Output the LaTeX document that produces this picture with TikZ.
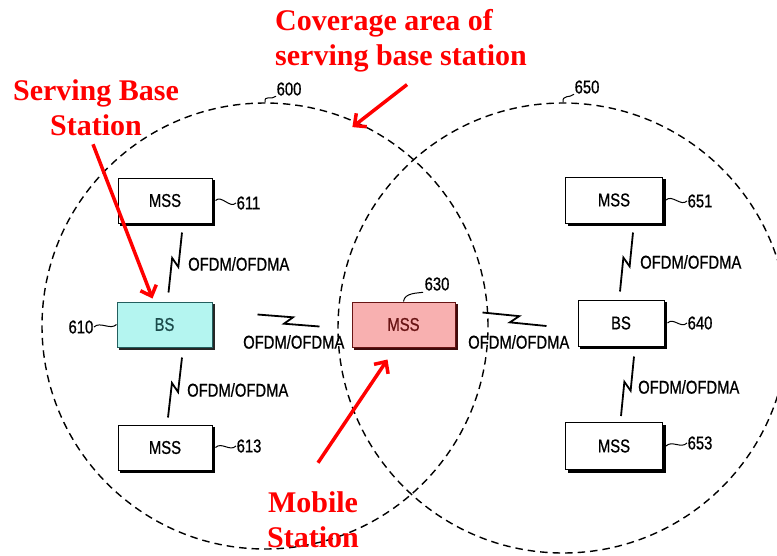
\documentclass[tikz,border=0pt]{standalone}
\usepackage{fontspec}
\usetikzlibrary{calc,arrows.meta,shadows}
\newfontfamily\lblfont[FakeStretch=0.8,FakeBold=0.8]{Liberation Sans}
\newfontfamily\redfont{Liberation Serif}
\definecolor{bscyan}{RGB}{180,245,240}
\definecolor{bsedge}{RGB}{35,95,95}
\definecolor{mspink}{RGB}{248,176,176}
\definecolor{msedge}{RGB}{105,20,20}
\definecolor{annred}{RGB}{255,0,0}
\tikzset{
  zone/.style={circle, draw=black, dash pattern=on 7.5pt off 5pt, line width=1.4pt, inner sep=0pt},
  box/.style={draw=black, line width=1pt, fill=white, inner sep=0pt,
    font=\lblfont\fontsize{18.5}{20}\selectfont,
    copy shadow={shadow xshift=2.5pt, shadow yshift=-2.5pt, fill=black, draw=black}},
  bsbox/.style={box, fill=bscyan, draw=bsedge, text=bsedge!80!black,
    copy shadow={shadow xshift=2.5pt, shadow yshift=-2.5pt, fill=black!85, draw=black!85}},
  msbox/.style={box, fill=mspink, draw=msedge, text=msedge,
    copy shadow={shadow xshift=2.5pt, shadow yshift=-2.5pt, fill=msedge!60!black, draw=msedge!60!black}},
  numlbl/.style={font=\lblfont\fontsize{18.5}{20}\selectfont, inner sep=0.5pt},
  ofdm/.style={font=\lblfont\fontsize{18.5}{20}\selectfont, inner sep=0pt, anchor=west},
  tilde/.style={draw=black, line width=1pt},
  zap/.style={draw=black, line width=1.8pt, line join=miter},
  redtext/.style={font=\redfont\bfseries\fontsize{30}{35}\selectfont, text=annred, inner sep=0pt},
  redarrow/.style={draw=annred, line width=3.5pt, -{Straight Barb[length=9pt, width=17pt]}}
}
\newcommand\zapline[2]{%
  \path ($(#1)!0.56!(#2)$) coordinate (zq1) ($(#1)!0.44!(#2)$) coordinate (zq2);
  \path ($(zq1)!4pt!90:(#2)$) coordinate (zr1) ($(zq2)!4pt!-90:(#2)$) coordinate (zr2);
  \draw[zap] (#1) -- (zr1) -- (zr2) -- (#2);}
\begin{document}
\begin{tikzpicture}[x=1pt, y=-1pt]
\fill[white] (0,0) rectangle (777,555);
\useasboundingbox (0,0) rectangle (777,555);

% coverage circles
\node[zone, minimum size=446pt] (c600) at (265,326) {};
\node[zone, minimum size=450pt] (c650) at (563,328) {};

% boxes
\node[box, minimum width=94pt, minimum height=45pt] (m611) at (165,200.5) {MSS};
\node[bsbox, minimum width=95pt, minimum height=45pt] (b610) at (164.5,324.5) {BS};
\node[box, minimum width=94pt, minimum height=45pt] (m613) at (165,447.5) {MSS};
\node[msbox, minimum width=103pt, minimum height=45pt] (m630) at (403.5,324.5) {MSS};
\node[box, minimum width=97pt, minimum height=46pt] (m651) at (614,200) {MSS};
\node[box, minimum width=86pt, minimum height=46pt] (b640) at (621,323) {BS};
\node[box, minimum width=97pt, minimum height=47pt] (m653) at (614,446) {MSS};

% reference numbers
\node[numlbl, anchor=west] (l600) at (276,89) {600};
\node[numlbl, anchor=west] (l650) at (574,87) {650};
\node[numlbl, anchor=west] (l611) at (236,203) {611};
\node[numlbl, anchor=east] (l610) at (94,327) {610};
\node[numlbl, anchor=west] (l613) at (236,446) {613};
\node[numlbl, anchor=west] (l630) at (424,284) {630};
\node[numlbl, anchor=west] (l651) at (687,201) {651};
\node[numlbl, anchor=west] (l640) at (687,323) {640};
\node[numlbl, anchor=west] (l653) at (687,443) {653};

\draw[tilde] (c600.north) .. controls +(-1,-8) and +(-4,4) .. (l600.south west);
\draw[tilde] (c650.north) .. controls +(-1,-8) and +(-4,4) .. (l650.south west);
\draw[tilde] (l630.south west) ++(-1,1) .. controls +(-5,1) and +(1,-9) .. (m630.north);
\draw[tilde] ([xshift=3pt]m611.east) .. controls +(6,-6) and +(-6,6) .. (l611.west);
\draw[tilde] ([xshift=3pt]m613.east) .. controls +(6,-6) and +(-6,6) .. (l613.west);
\draw[tilde] ([xshift=3pt]m651.east) .. controls +(6,-6) and +(-6,6) .. (l651.west);
\draw[tilde] ([xshift=3pt]b640.east) .. controls +(6,-6) and +(-6,6) .. (l640.west);
\draw[tilde] ([xshift=3pt]m653.east) .. controls +(6,-6) and +(-6,6) .. (l653.west);
\draw[tilde] (l610.east) .. controls +(6,-6) and +(-6,6) .. (b610.west);

% wireless links
\coordinate (z1a) at ($(m611.south)+(17,9)$);
\coordinate (z1b) at ($(b610.north)+(4,-9)$);
\coordinate (z2a) at ($(b610.south)+(17.5,10)$);
\coordinate (z2b) at ($(m613.north)+(3,-7)$);
\coordinate (z3a) at ($(b610.east)+(45,-10)$);
\coordinate (z3b) at ($(m630.west)+(-32,2)$);
\coordinate (z4a) at ($(m630.east)+(27,-12)$);
\coordinate (z4b) at ($(b640.west)+(-31,3)$);
\coordinate (z5a) at ($(m651.south)+(19,9)$);
\coordinate (z5b) at ($(b640.north)+(-1,-8)$);
\coordinate (z6a) at ($(b640.south)+(13,10)$);
\coordinate (z6b) at ($(m653.north)+(7,-6)$);
\zapline{z1a}{z1b}
\zapline{z2a}{z2b}
\zapline{z3a}{z3b}
\zapline{z4a}{z4b}
\zapline{z5a}{z5b}
\zapline{z6a}{z6b}

\node[ofdm] (o1) at (188,264) {OFDM/OFDMA};
\node[ofdm] (o2) at (187,390) {OFDM/OFDMA};
\node[ofdm] (o3) at (243,342) {OFDM/OFDMA};
\node[ofdm] (o4) at (468,342) {OFDM/OFDMA};
\node[ofdm] (o5) at (640,262) {OFDM/OFDMA};
\node[ofdm] (o6) at (638,387) {OFDM/OFDMA};

% red annotations
\node[redtext, align=left, anchor=west] (cov) at (275,41) {Coverage area of\\serving base station};
\node[redtext, align=center] (sbs) at (96,108) {Serving Base\\Station};
\node[redtext, align=center] (mob) at (313,520) {Mobile\\Station};

\draw[redarrow] ($(sbs.south)+(-3,8)$) -- ($(b610.north west)+(36,-3)$);
\draw[redarrow] ($(cov.south)+(6,12)$) -- ($(c600.67)+(0,7)$);
\draw[redarrow] ($(mob.north)+(5,-29)$) -- ($(m630.south)+(-16,12)$);
\end{tikzpicture}
\end{document}
